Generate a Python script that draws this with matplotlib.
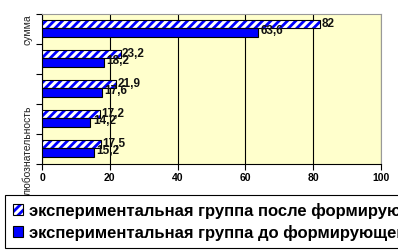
import matplotlib
matplotlib.use("Agg")
import matplotlib.pyplot as plt
from matplotlib.patches import Patch
from matplotlib.legend_handler import HandlerTuple
import numpy as np

categories = ["любознательность", "", "", "", "сумма"]
after_vals = [17.5, 17.2, 21.9, 23.2, 82]
before_vals = [15.2, 14.2, 17.6, 18.2, 63.6]
series_names = ["экспериментальная группа после формирующего эксперимента",
                "экспериментальная группа до формирующего эксперимента"]
xticks = [0, 20, 40, 60, 80, 100]

plt.rcParams['font.family'] = ['Liberation Sans', 'DejaVu Sans']
plt.rcParams['hatch.linewidth'] = 2.0

W, H = 398, 251
fig = plt.figure(figsize=(W/100, H/100), dpi=100)
ax = fig.add_axes([42/W, 1-165/H, (381-42)/W, 150/H])
ax.set_facecolor('#FFFFCC')

BLUE = '#0000FF'
y = np.arange(len(categories))
h = 0.28
ya = y + h/2 + 0.02
yb = y - h/2 + 0.02
ax.barh(ya, after_vals, height=h, color='white', edgecolor=BLUE,
        hatch='////', linewidth=0, zorder=3)
ax.barh(ya, after_vals, height=h, color='none', edgecolor='black',
        linewidth=0.8, zorder=4)
ax.barh(yb, before_vals, height=h, color=BLUE, edgecolor='black',
        linewidth=0.8, zorder=3)

def fmt(v):
    return ('%g' % v).replace('.', ',')

for yi, v in zip(ya, after_vals):
    ax.text(v + 0.4, yi + 0.04, fmt(v), va='center', ha='left', fontsize=8.5,
            fontweight='bold', color='#111111', zorder=5)
for yi, v in zip(yb, before_vals):
    ax.text(v + 0.8, yi + 0.1, fmt(v), va='center', ha='left', fontsize=8.5,
            fontweight='bold', color='#111111', zorder=5)

ax.set_xlim(0, 100)
ax.set_ylim(-0.5, len(categories) - 0.5)
ax.set_xticks(xticks)
ax.set_xticklabels([str(t) for t in xticks], fontsize=7.5, fontweight='bold')
ax.set_yticks(np.arange(len(categories) + 1) - 0.5)
ax.set_yticklabels([])
ax.tick_params(axis='y', direction='out', length=4, width=0.8)
ax.tick_params(axis='x', direction='out', length=4, width=0.8, pad=2)
for yi, c in zip(y, categories):
    if c:
        ax.text(-0.027, yi, c, transform=ax.get_yaxis_transform(), rotation=90,
                ha='right', va='center', fontsize=7.5, color='#222222')

ax.grid(axis='x', color='black', linewidth=0.8, zorder=1)
ax.set_axisbelow(True)
for s in ['top', 'right']:
    ax.spines[s].set_color('#999999')
    ax.spines[s].set_linewidth(0.8)
for s in ['left', 'bottom']:
    ax.spines[s].set_color('black')
    ax.spines[s].set_linewidth(0.8)

h1 = (Patch(facecolor='white', edgecolor=BLUE, hatch='////', linewidth=0),
      Patch(facecolor='none', edgecolor='black', linewidth=0.8))
h2 = Patch(facecolor=BLUE, edgecolor='black', linewidth=0.8)
leg = fig.legend(handles=[h1, h2], labels=series_names, loc='upper left',
                 bbox_to_anchor=(5/W, 1-196/H),
                 prop={'weight': 'bold', 'size': 12}, frameon=True,
                 fancybox=False, edgecolor='black', framealpha=1, handlelength=0.65,
                 handleheight=0.65, handletextpad=0.35, borderpad=0.45, labelspacing=0.35,
                 borderaxespad=0, handler_map={tuple: HandlerTuple(ndivide=1, pad=0)})
leg.get_frame().set_linewidth(0.8)
leg.set_zorder(10)

fig.savefig('out.png', dpi=100)
